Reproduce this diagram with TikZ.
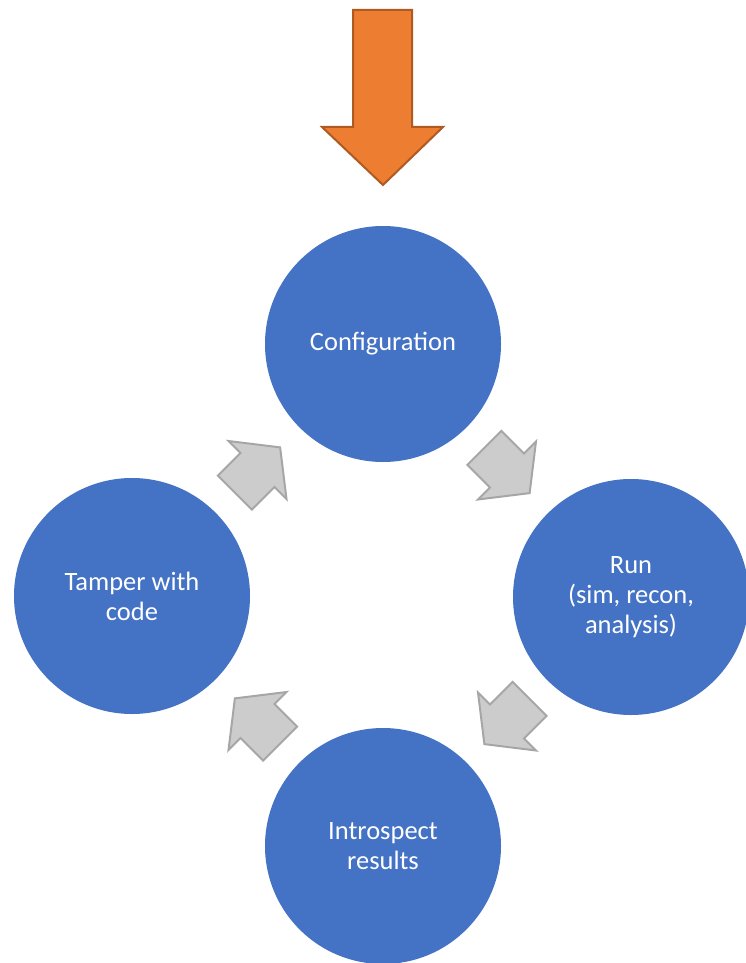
\documentclass[tikz,border=0pt]{standalone}
\usepackage{fontspec}
\setmainfont{Carlito}
\usetikzlibrary{calc}
\definecolor{stepblue}{RGB}{68,114,196}
\definecolor{arrowfill}{RGB}{204,204,204}
\definecolor{arrowline}{RGB}{166,166,166}
\definecolor{orangefill}{RGB}{237,125,49}
\definecolor{orangeline}{RGB}{174,90,33}
\tikzset{
  stepcircle/.style={circle, minimum size=236pt, inner sep=0pt, fill=stepblue, draw=none,
    text=white, align=center, font=\fontsize{26.5}{30}\selectfont},
  cyclearrow/.style={fill=arrowfill, draw=arrowline, line width=2pt, line join=miter},
  startarrow/.style={fill=orangefill, draw=orangeline, line width=2pt, line join=miter}
}
\begin{document}
\begin{tikzpicture}[x=1pt, y=-1pt]
\useasboundingbox (0,0) rectangle (746,963);
\node[stepcircle] (conf) at (383,344) {Configuration};
\node[stepcircle] (run) at (631,597) {Run\\(sim, recon,\\analysis)};
\node[stepcircle] (intro) at (383,846) {Introspect\\results};
\node[stepcircle] (tamper) at (132,596) {Tamper with\\code};
% orange start arrow
\draw[startarrow] (353,10) -- (412,10) -- (412,127) -- (443,127) -- (383,185)
  -- (322,127) -- (353,127) -- cycle;
% gray cycle arrows
\foreach \a/\b/\r in {conf/run/-45, run/intro/-135, intro/tamper/135, tamper/conf/45}{
  \draw[cyclearrow, shift={($(\a)!0.5!(\b)$)}, rotate=\r]
    (-32,-24) -- (0,-24) -- (0,-41) -- (32,0) -- (0,41) -- (0,24) -- (-32,24) -- cycle;
}
\end{tikzpicture}
\end{document}
